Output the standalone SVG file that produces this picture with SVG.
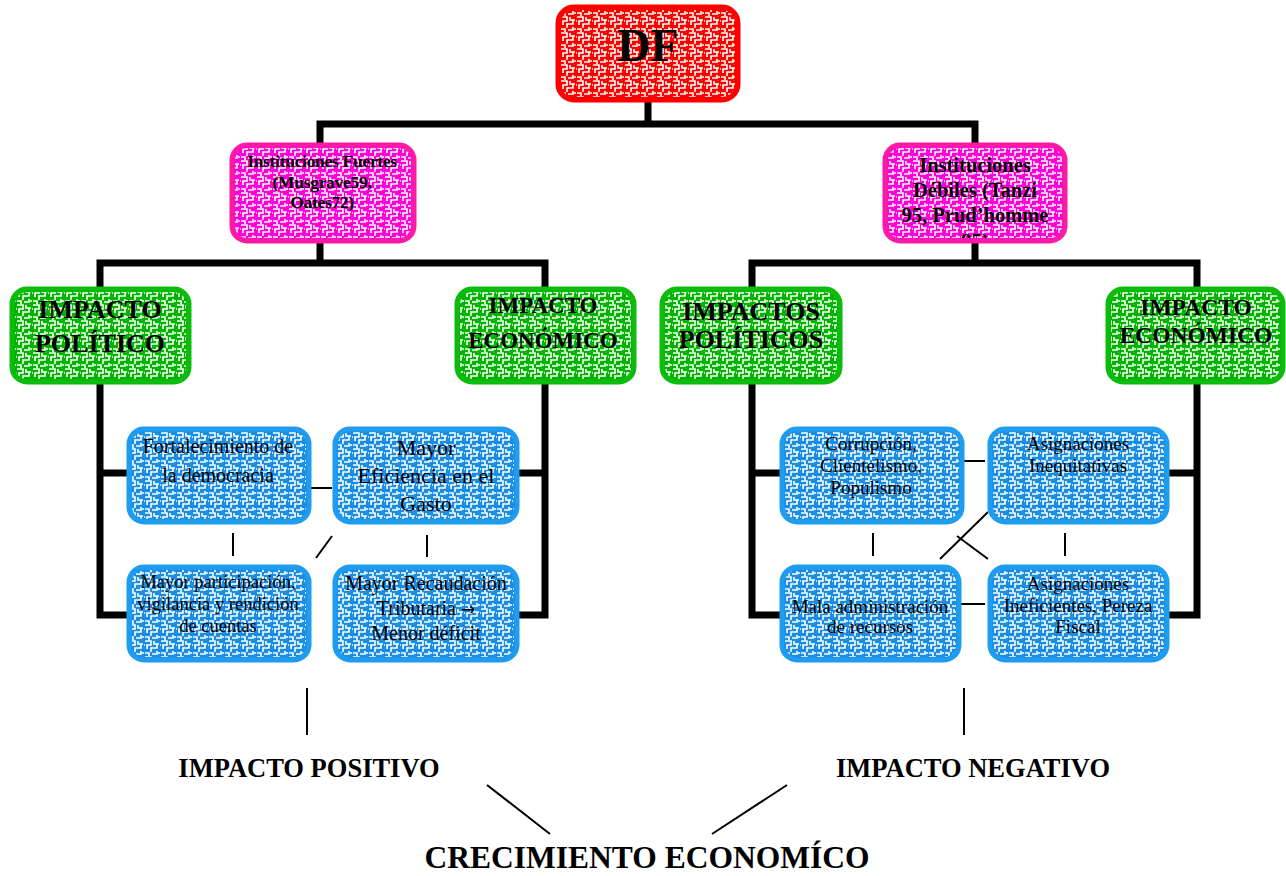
<svg xmlns="http://www.w3.org/2000/svg" width="1286" height="876" viewBox="0 0 1286 876">
<style>
text{font-family:"Liberation Serif","Times New Roman",serif;fill:#000;text-anchor:middle}
.b{font-weight:bold}
.box{stroke-width:5}
.red{fill:#ff0000;stroke:#ff0000}
.pink{fill:#ff00dd;stroke:#ff1aa6}
.green{fill:#00b400;stroke:#0cbc0c}
.blue{fill:#1a8ee6;stroke:#1e9cf0}
.mz{fill:url(#maze);stroke:none}
.thick{fill:none;stroke:#000;stroke-width:7;stroke-linecap:square;stroke-linejoin:miter}
.thin{fill:none;stroke:#000;stroke-width:2}
.arr{font-family:"DejaVu Sans",sans-serif;font-size:17px}
</style>
<defs>
<pattern id="maze" width="16" height="16" patternUnits="userSpaceOnUse">
<path d="M1 1H7V5H3V9M10 1V4H15M13 4V8H7V12M1 13H5V16M8 14H13V11M14 13H16M0 5H1" fill="none" stroke="#fff" stroke-width="1.6"/>
</pattern>
<clipPath id="clipR"><rect x="887" y="147" width="176" height="91"/></clipPath>
</defs>
<rect width="1286" height="876" fill="#fff"/>

<g id="connectors">
<path class="thick" d="M648 100V124M320 124H975M320 124V145M975 124V145"/>
<path class="thick" d="M320 242V263M100 263H545M100 263V289M545 263V289"/>
<path class="thick" d="M100 381V615H128M100 473H128M545 381V615H518M545 473H518"/>
<path class="thick" d="M975 242V263M752 263H1197M752 263V289M1197 263V289"/>
<path class="thick" d="M752 381V615H780M752 473H780M1197 381V615H1168M1197 473H1168"/>
<path class="thin" d="M300 488H332M233 533V556M332 536L316 558M427 535V557"/>
<path class="thin" d="M953 461H985M873 533V556M1065 533V556M988 512L940 559M957 536L988 559M953 604H985"/>
<path class="thin" d="M307 688V735M964 688V735M487 785L550 834M787 785L712 834"/>
</g>

<g id="df">
<rect class="box red" x="558" y="7" width="180" height="93" rx="16"/>
<rect class="mz" x="561" y="10" width="174" height="87" rx="13"/>
<text class="b" x="648" y="61" font-size="46">DF</text>
</g>

<g id="inst-fuertes">
<rect class="box pink" x="232" y="145" width="182" height="96" rx="15"/>
<rect class="mz" x="235" y="148" width="176" height="90" rx="12"/>
<text class="b" font-size="17.5" letter-spacing="-0.3"><tspan x="322" y="167">Instituciones Fuertes</tspan><tspan x="322" y="188">(Musgrave59,</tspan><tspan x="322" y="208">Oates72)</tspan></text>
</g>

<g id="inst-debiles">
<rect class="box pink" x="885" y="145" width="180" height="96" rx="15"/>
<rect class="mz" x="888" y="148" width="174" height="90" rx="12"/>
<text class="b" font-size="20.5" clip-path="url(#clipR)"><tspan x="975" y="172">Instituciones</tspan><tspan x="975" y="197">Débiles (Tanzi</tspan><tspan x="975" y="222">95, Prud’homme</tspan><tspan x="975" y="248">95)</tspan></text>
</g>

<g id="imp-pol-pos">
<rect class="box green" x="12" y="289" width="177" height="93" rx="15"/>
<rect class="mz" x="15" y="292" width="171" height="87" rx="12"/>
<text class="b" font-size="26"><tspan x="100" y="318">IMPACTO</tspan><tspan x="100" y="352">POLÍTICO</tspan></text>
</g>

<g id="imp-eco-pos">
<rect class="box green" x="457" y="289" width="177" height="93" rx="15"/>
<rect class="mz" x="460" y="292" width="171" height="87" rx="12"/>
<text class="b" font-size="23"><tspan x="543" y="313">IMPACTO</tspan><tspan x="543" y="348">ECONÓMICO</tspan></text>
</g>

<g id="imp-pol-neg">
<rect class="box green" x="662" y="289" width="178" height="93" rx="15"/>
<rect class="mz" x="665" y="292" width="172" height="87" rx="12"/>
<text class="b" font-size="26"><tspan x="751" y="320">IMPACTOS</tspan><tspan x="751" y="348">POLÍTICOS</tspan></text>
</g>

<g id="imp-eco-neg">
<rect class="box green" x="1108" y="289" width="175" height="93" rx="15"/>
<rect class="mz" x="1111" y="292" width="169" height="87" rx="12"/>
<text class="b" font-size="23.5"><tspan x="1196" y="315">IMPACTO</tspan><tspan x="1196" y="343">ECONÓMICO</tspan></text>
</g>

<g id="fortalecimiento">
<rect class="box blue" x="129" y="429" width="180" height="93" rx="15"/>
<rect class="mz" x="132" y="432" width="174" height="87" rx="12"/>
<text font-size="20"><tspan x="218" y="453">Fortalecimiento de</tspan><tspan x="218" y="482">la democracia</tspan></text>
</g>

<g id="eficiencia">
<rect class="box blue" x="335" y="429" width="182" height="93" rx="15"/>
<rect class="mz" x="338" y="432" width="176" height="87" rx="12"/>
<text font-size="22"><tspan x="426" y="455">Mayor</tspan><tspan x="426" y="483">Eficiencia en el</tspan><tspan x="426" y="511">Gasto</tspan></text>
</g>

<g id="participacion">
<rect class="box blue" x="129" y="567" width="180" height="93" rx="15"/>
<rect class="mz" x="132" y="570" width="174" height="87" rx="12"/>
<text font-size="18.5"><tspan x="218" y="588">Mayor participación,</tspan><tspan x="218" y="610">vigilancia y rendición</tspan><tspan x="218" y="632">de cuentas</tspan></text>
</g>

<g id="recaudacion">
<rect class="box blue" x="335" y="567" width="182" height="93" rx="15"/>
<rect class="mz" x="338" y="570" width="176" height="87" rx="12"/>
<text font-size="20"><tspan x="426" y="590">Mayor Recaudación</tspan><tspan x="426" y="615">Tributaria <tspan class="arr">→</tspan></tspan><tspan x="426" y="640">Menor déficit</tspan></text>
</g>

<g id="corrupcion">
<rect class="box blue" x="782" y="429" width="180" height="93" rx="15"/>
<rect class="mz" x="785" y="432" width="174" height="87" rx="12"/>
<text font-size="19"><tspan x="871" y="450">Corrupción,</tspan><tspan x="871" y="472">Clientelismo,</tspan><tspan x="871" y="494">Populismo</tspan></text>
</g>

<g id="inequitativas">
<rect class="box blue" x="990" y="429" width="177" height="93" rx="15"/>
<rect class="mz" x="993" y="432" width="171" height="87" rx="12"/>
<text font-size="19"><tspan x="1078" y="450">Asignaciones</tspan><tspan x="1078" y="472">Inequitativas</tspan></text>
</g>

<g id="mala-admin">
<rect class="box blue" x="782" y="567" width="177" height="93" rx="15"/>
<rect class="mz" x="785" y="570" width="171" height="87" rx="12"/>
<text font-size="19"><tspan x="870" y="613">Mala administración</tspan><tspan x="870" y="633">de recursos</tspan></text>
</g>

<g id="ineficientes">
<rect class="box blue" x="990" y="567" width="177" height="93" rx="15"/>
<rect class="mz" x="993" y="570" width="171" height="87" rx="12"/>
<text font-size="19"><tspan x="1078" y="590">Asignaciones</tspan><tspan x="1078" y="612">Ineficientes, Pereza</tspan><tspan x="1078" y="633">Fiscal</tspan></text>
</g>

<g id="impacto-positivo"><text class="b" x="309" y="777" font-size="26.5">IMPACTO POSITIVO</text></g>
<g id="impacto-negativo"><text class="b" x="973" y="777" font-size="26.5">IMPACTO NEGATIVO</text></g>
<g id="crecimiento"><text class="b" x="647" y="868" font-size="31.5">CRECIMIENTO ECONOMÍCO</text></g>
</svg>
